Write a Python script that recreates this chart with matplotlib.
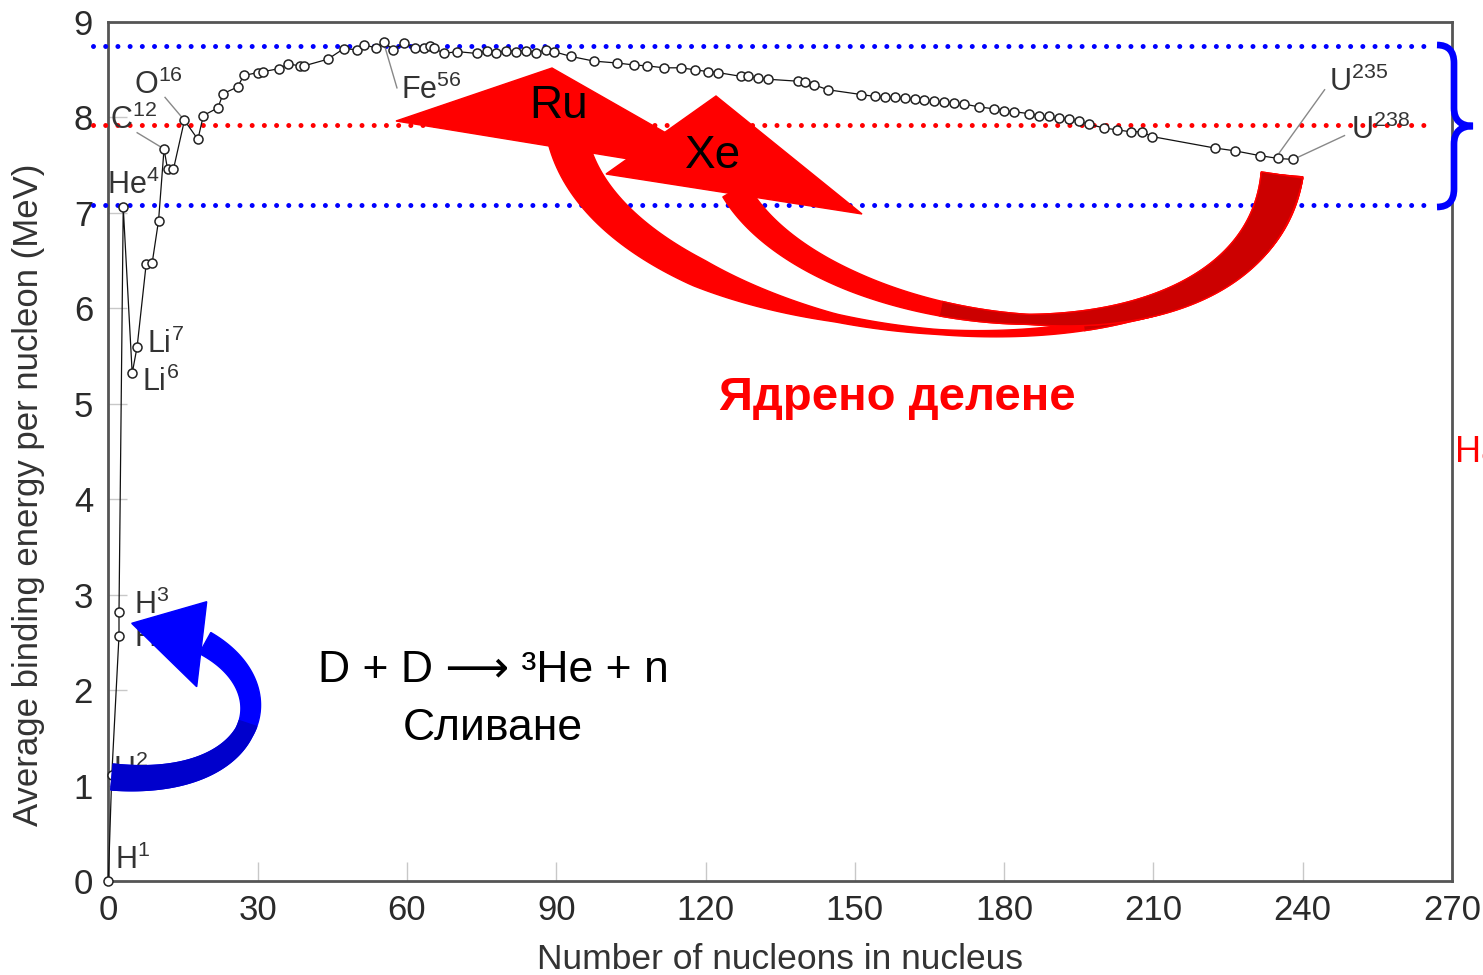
import numpy as np
import matplotlib
matplotlib.use("Agg")
import matplotlib.pyplot as plt
from matplotlib.patches import Polygon, PathPatch
from matplotlib.path import Path

plt.rcParams["font.family"] = ["Liberation Sans", "DejaVu Sans"]
plt.rcParams["mathtext.fontset"] = "custom"
plt.rcParams["mathtext.rm"] = "Liberation Sans"

W, H = 1483, 975

# binding energy curve
mass_number = [
    0, 0.7, 2.15, 2.15, 3.0, 4.8, 5.8, 7.6, 8.8, 10.1, 11.2, 11.9, 13.1,
    15.3, 18.0, 19.1, 22.0, 23.1, 26.0, 27.2, 30.1, 31.1, 34.2, 36.2, 38.6,
    39.3, 44.1, 47.3, 50.0, 51.3, 53.8, 55.3, 57.3, 59.4, 61.7, 63.4, 64.7,
    65.4, 67.4, 70.1, 74.1, 76, 78, 80, 82, 84, 86, 88, 89.5, 92.9, 97.6,
    102.3, 105.6, 108.3, 111.7, 115, 117.8, 120.5, 122.5, 127.2, 128.5,
    130.6, 132.6, 138.5, 140, 141.9, 144.6, 151.3, 154, 156, 158, 160, 162,
    164, 166, 168, 170, 172, 175, 178, 180, 182, 185, 187, 189, 191, 193,
    195, 197, 200, 202.7, 205.4, 207.7, 209.7, 222.3, 226.4, 231.4, 235.1,
    238.1,
]
binding_energy = [
    0.0, 1.11, 2.57, 2.82, 7.06, 5.32, 5.60, 6.46, 6.47, 6.92, 7.67, 7.46,
    7.46, 7.97, 7.77, 8.02, 8.10, 8.25, 8.32, 8.44, 8.47, 8.48, 8.51, 8.56,
    8.54, 8.54, 8.61, 8.72, 8.71, 8.76, 8.73, 8.79, 8.71, 8.78, 8.73, 8.73,
    8.75, 8.73, 8.67, 8.69, 8.67, 8.70, 8.68, 8.70, 8.69, 8.70, 8.68, 8.71,
    8.69, 8.64, 8.59, 8.57, 8.55, 8.54, 8.52, 8.52, 8.50, 8.48, 8.47, 8.43,
    8.43, 8.41, 8.40, 8.38, 8.37, 8.34, 8.29, 8.24, 8.22, 8.21, 8.21, 8.20,
    8.19, 8.18, 8.17, 8.16, 8.15, 8.14, 8.11, 8.09, 8.07, 8.06, 8.04, 8.02,
    8.01, 7.99, 7.98, 7.96, 7.93, 7.89, 7.87, 7.85, 7.85, 7.80, 7.68, 7.65,
    7.60, 7.57, 7.56,
]

x_ticks = [0, 30, 60, 90, 120, 150, 180, 210, 240, 270]
y_ticks = [0, 1, 2, 3, 4, 5, 6, 7, 8, 9]

band_levels = [8.75, 7.08]
mid_level = 7.92

nuclide_names = [r"H$^{1}$", r"H$^{2}$", r"H$^{3}$", r"He$^{3}$", r"He$^{4}$",
                 r"Li$^{7}$", r"Li$^{6}$", r"C$^{12}$", r"O$^{16}$",
                 r"Fe$^{56}$", r"U$^{235}$", r"U$^{238}$"]
# label anchor (left, centre) in picture pixels
label_pos = [(115, 860), (113, 770), (134, 605), (134, 638), (107, 185),
             (147, 344), (142, 382), (110, 120), (134, 85), (401, 90),
             (1329, 82), (1351, 130)]
# leader lines: (point, label end) in data units
leaders = [((11.2, 7.67), (5.8, 7.84)), ((15.3, 7.97), (11.4, 8.21)),
           ((55.3, 8.79), (58.0, 8.31)), ((235.3, 7.63), (244.4, 8.29)),
           ((238.1, 7.56), (248.4, 7.81))]


def fxy(px, py):
    return px / W, 1 - py / H


fig = plt.figure(figsize=(W / 100, H / 100), dpi=100)
ax = fig.add_axes([108.3 / W, 1 - 881 / H, (1452 - 108.3) / W, (881 - 22) / H])
ax.set_xlim(0, 270)
ax.set_ylim(0, 9)
ax.set_xticks(x_ticks)
ax.set_yticks(y_ticks)
ax.tick_params(direction="in", length=14, width=1, color="#c8c8c8",
               labelsize=25, labelcolor="#2a2a2a")
ax.tick_params(axis="x", pad=9)
ax.tick_params(axis="y", pad=11)
for s in ax.spines.values():
    s.set_color("#555555")
    s.set_linewidth(2)

ax.set_xlabel("Number of nucleons in nucleus", fontsize=25.5, color="#333333",
              labelpad=12)
ax.set_ylabel("Average binding energy per nucleon (MeV)", fontsize=25,
              color="#333333")
ax.yaxis.label.set_va("center")
ax.yaxis.set_label_coords(-0.0595, 0.449)

# dotted guide lines
dots = dict(dashes=(0.001, 2.44), dash_capstyle="round", lw=3.6, clip_on=False, zorder=3)
for lvl in band_levels:
    ax.plot([-3.1, 265.9], [lvl, lvl], color="#0000ff", **dots)
ax.plot([-3.1, 265.9], [mid_level, mid_level], color="#ff0000", **dots)

ax.plot(mass_number, binding_energy, color="#111111", lw=0.9, marker="o",
        ms=6.5, mfc="white", mec="#222222", mew=1.1, zorder=4, clip_on=False)

for (p, q) in leaders:
    ax.plot([p[0], q[0]], [p[1], q[1]], color="#888888", lw=1, zorder=3.5)
for name, (px, py) in zip(nuclide_names, label_pos):
    fig.text(*fxy(px, py), name, fontsize=22, color="#333333",
             ha="left", va="center", zorder=2)


def band(ctrl, wt, wv, t0=0.0, t1=1.0, n=160):
    p = np.array(ctrl, dtype=float)
    t = np.linspace(t0, t1, n)[:, None]
    pts = ((1 - t) ** 3 * p[0] + 3 * (1 - t) ** 2 * t * p[1]
           + 3 * (1 - t) * t ** 2 * p[2] + t ** 3 * p[3])
    d = (3 * (1 - t) ** 2 * (p[1] - p[0]) + 6 * (1 - t) * t * (p[2] - p[1])
         + 3 * t ** 2 * (p[3] - p[2]))
    nrm = np.column_stack([-d[:, 1], d[:, 0]])
    nrm /= np.linalg.norm(nrm, axis=1)[:, None]
    w = np.interp(t[:, 0], wt, wv)[:, None] / 2
    poly = np.vstack([pts + nrm * w, (pts - nrm * w)[::-1]])
    return np.column_stack([poly[:, 0] / W, 1 - poly[:, 1] / H])


def add_poly(verts, fc, ec=None, z=5):
    fig.patches.append(Polygon(verts, closed=True, transform=fig.transFigure,
                               fc=fc, ec=ec or fc, lw=1, zorder=z))


def tri(points):
    return np.array([fxy(*pt) for pt in points])


# fission arrows
ru_ctrl = [(1282, 175), (1260, 420), (620, 360), (568, 140)]
ru_w = ([0, 0.3, 0.5, 0.6, 0.75, 1], [42, 10, 5, 8, 28, 40])
xe_ctrl = [(1282, 175), (1250, 390), (820, 340), (735, 190)]
xe_w = ([0, 0.5, 0.75, 1], [42, 10, 20, 28])
add_poly(band(ru_ctrl, *ru_w), "#ff0000")
add_poly(band(ru_ctrl, *ru_w, t0=0.0, t1=0.35), "#cc0000", "#ff0000")
add_poly(band(xe_ctrl, *xe_w), "#ff0000")
add_poly(band(xe_ctrl, *xe_w, t0=0.0, t1=0.62), "#cc0000", "#ff0000")
add_poly(tri([(396, 121), (552, 68), (745, 178)]), "#ff0000")
add_poly(tri([(606, 174), (716, 96), (862, 214)]), "#ff0000")

# fusion arrow
bl_ctrl = [(112, 777), (255, 790), (290, 690), (205, 643)]
bl_w = ([0, 0.5, 1], [26, 18, 24])
add_poly(band(bl_ctrl, *bl_w), "#0000ff")
add_poly(band(bl_ctrl, *bl_w, t0=0.0, t1=0.55), "#0000cc", "#0000cc")
add_poly(tri([(131.7, 623.3), (206.7, 601.7), (196.7, 686.7)]), "#0000ff")

# brace on the right
bx, tip = 1454, 1473
verts = [(1437, 45), (bx, 45), (bx, 63), (bx, 108), (bx, 126), (tip, 126),
         (bx, 126), (bx, 144), (bx, 189), (bx, 207), (1437, 207)]
codes = [Path.MOVETO, Path.CURVE3, Path.CURVE3, Path.LINETO, Path.CURVE3,
         Path.CURVE3, Path.CURVE3, Path.CURVE3, Path.LINETO, Path.CURVE3,
         Path.CURVE3]
brace = Path([fxy(*v) for v in verts], codes)
fig.patches.append(PathPatch(brace, transform=fig.transFigure, fc="none",
                             ec="#0000ff", lw=4.8, zorder=5))

fig.text(*fxy(559, 106), "Ru", fontsize=33, ha="center", va="center", zorder=6)
fig.text(*fxy(713, 156), "Xe", fontsize=33, ha="center", va="center", zorder=6)
fig.text(*fxy(897, 398), "Ядрено делене", fontsize=34, fontweight="bold",
         color="#ff0000", ha="center", va="center", zorder=6)
fig.text(*fxy(493, 670), "D + D ⟶ ³He + n", fontsize=32,
         ha="center", va="center", zorder=6)
fig.text(*fxy(493, 728), "Сливане", fontsize=32, ha="center", va="center",
         zorder=6)
fig.text(*fxy(1455, 452), "На", fontsize=26, color="#ff0000", ha="left",
         va="center", zorder=6)

fig.savefig("out.png", dpi=100)
